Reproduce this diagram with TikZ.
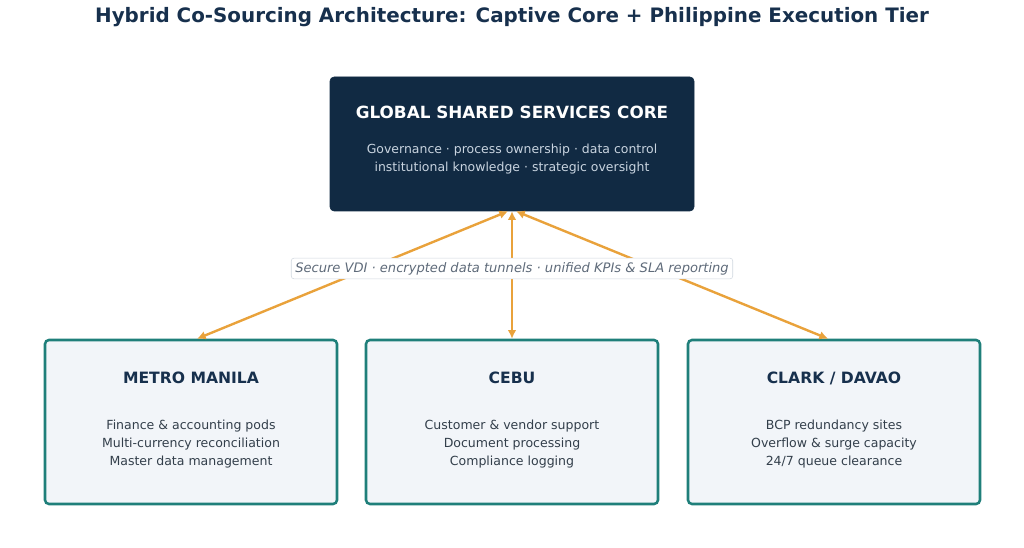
\documentclass[tikz,border=0pt]{standalone}
\usepackage{fontspec}
\setmainfont{DejaVu Sans}
\usepackage{tikz}
\usetikzlibrary{arrows.meta,positioning}
\definecolor{navy}{HTML}{112A43}
\definecolor{titleblue}{HTML}{17304D}
\definecolor{teal}{HTML}{1F7F7A}
\definecolor{paleblue}{HTML}{F2F5F9}
\definecolor{amber}{HTML}{E9A23B}
\definecolor{bodygray}{HTML}{333F4B}
\definecolor{coretext}{HTML}{C9D4E0}
\definecolor{tagtext}{HTML}{5F6B7A}
\definecolor{tagline}{HTML}{D0D7DF}
\tikzstyle{core} = [draw=navy, fill=navy, rounded corners=3pt,
    minimum width=273pt, minimum height=100.5pt]
\tikzstyle{site} = [draw=teal, fill=paleblue, line width=1.9pt, rounded corners=3pt,
    minimum width=219pt, minimum height=123pt]
\tikzstyle{head} = [font=\bfseries\fontsize{11.7}{14}\selectfont, text=titleblue]
\tikzstyle{body} = [align=center, font=\fontsize{9.4}{13.5}\selectfont, text=bodygray]
\tikzstyle{link} = [draw=amber, line width=1.8pt, {Latex[length=6.5pt,width=6.5pt]}-{Latex[length=6.5pt,width=6.5pt]}]
\tikzstyle{tag} = [draw=tagline, fill=white, rounded corners=2pt, text=tagtext,
    font=\itshape\fontsize{9.8}{11}\selectfont, inner sep=3pt]

\begin{document}
\begin{tikzpicture}[x=0.75pt, y=-0.75pt]
        \useasboundingbox (0,0) rectangle (1024,548);
        % title
        \node [font=\bfseries\fontsize{14.9}{18}\selectfont, text=titleblue] (title) at (512,17)
            {Hybrid Co-Sourcing Architecture: Captive Core + Philippine Execution Tier};

        % captive core
        \node [core] (glob) at (512,144) {};
        \node [font=\bfseries\fontsize{12.6}{15}\selectfont, text=white] (globhead) at (512,112)
            {GLOBAL SHARED SERVICES CORE};
        \node [align=center, font=\fontsize{9.35}{13.5}\selectfont, text=coretext] (globbody) at (512,159)
            {Governance · process ownership · data control\\institutional knowledge · strategic oversight};

        % delivery sites
        \node [site] (manila) at (191,422) {};
        \node [head] (manilahead) at (191,378) {METRO MANILA};
        \node [body] (manilabody) at (191,444)
            {Finance \& accounting pods\\Multi-currency reconciliation\\Master data management};

        \node [site] (cebu) at (512,422) {};
        \node [head] (cebuhead) at (512,378) {CEBU};
        \node [body] (cebubody) at (512,444)
            {Customer \& vendor support\\Document processing\\Compliance logging};

        \node [site] (clark) at (834,422) {};
        \node [head] (clarkhead) at (834,378) {CLARK / DAVAO};
        \node [body] (clarkbody) at (834,444)
            {BCP redundancy sites\\Overflow \& surge capacity\\24/7 queue clearance};

        % links to the core
        \draw [link] ([xshift=-3pt]glob.south) -- ([xshift=4.5pt]manila.north);
        \draw [link] (glob.south) -- (cebu.north);
        \draw [link] ([xshift=3pt]glob.south) -- ([xshift=-4.5pt]clark.north);
        \node [tag] (channel) at (512,268.5)
            {Secure VDI · encrypted data tunnels · unified KPIs \& SLA reporting};
    \end{tikzpicture}
\end{document}
